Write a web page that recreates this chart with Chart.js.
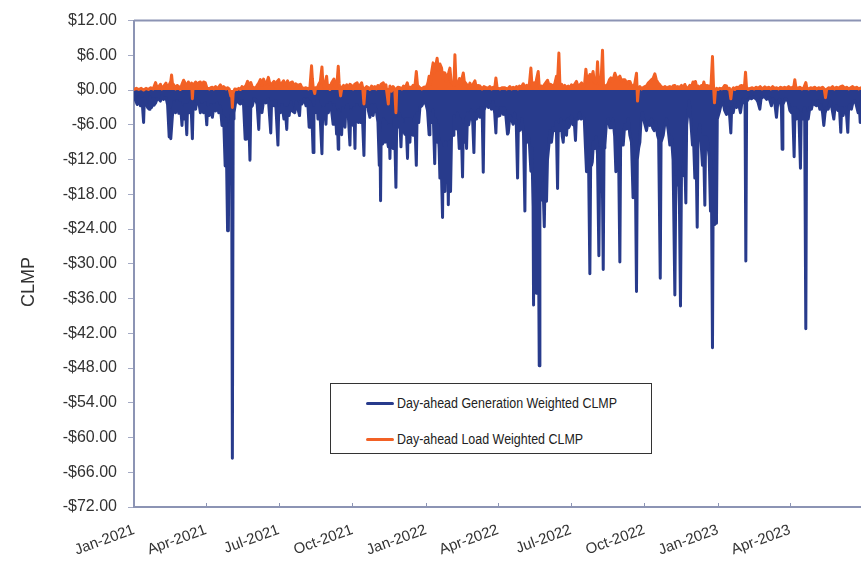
<!DOCTYPE html>
<html>
<head>
<meta charset="utf-8">
<script src="https://cdn.jsdelivr.net/npm/chart.js@4.4.1/dist/chart.umd.min.js"></script>
<style>
    html, body { margin: 0; padding: 0; background: #ffffff; }
    #wrap { position: relative; width: 861px; height: 566px; overflow: hidden; }
    #legendBox {
        position: absolute; left: 330px; top: 383px; width: 322px; height: 71px;
        border: 1px solid #333333; background: #ffffff; box-sizing: border-box;
        font-family: "Liberation Sans", Arial, sans-serif; font-size: 14px; color: #222222;
    }
    .item { position: absolute; left: 35px; height: 16px; line-height: 16px; white-space: nowrap; }
    .swatch { display: inline-block; width: 28px; height: 3px; vertical-align: middle; margin-right: 3px; border-radius: 2px; }
    .txt { display: inline-block; transform: scaleX(0.89); transform-origin: left center; vertical-align: middle; }
</style>
</head>
<body>
<div id="wrap">
    <canvas id="clmpChart" width="861" height="566"></canvas>
    <div id="legendBox">
        <div class="item" style="top: 10px;"><span class="swatch" style="background:#283b8c"></span><span class="txt">Day-ahead Generation Weighted CLMP</span></div>
        <div class="item" style="top: 46px;"><span class="swatch" style="background:#f26125"></span><span class="txt">Day-ahead Load Weighted CLMP</span></div>
    </div>
</div>
<script>
// days since 1 Jan 2021
const tickDays = [0, 90, 181, 273, 365, 455, 546, 638, 730, 820];
const tickLabels = ["Jan-2021", "Apr-2021", "Jul-2021", "Oct-2021", "Jan-2022",
                    "Apr-2022", "Jul-2022", "Oct-2022", "Jan-2023", "Apr-2023"];

const seriesNames = ["Day-ahead Generation Weighted CLMP", "Day-ahead Load Weighted CLMP"];

// [day, $] - generation weighted
const genPoints = [
    [0,-0.8],[2,-1.8],[4,-2.5],[6,-1.2],[8,-2.7],[10,-1.5],[12,-5.6],[13,-1.4],[15,-2.2],[17,-3.0],[19,-3.3],[20,-1.2],
    [22,-3.0],[24,-1.5],[25,-2.6],[27,-2.2],[29,-1.5],[31,-1.6],[33,-1.9],[35,-1.0],[37,-1.6],[40,-1.3],[42,-2.5],
    [44,-8.1],[45,-3.5],[46,-8.4],[48,-4.5],[50,-2.0],[52,-3.9],[54,-1.8],[56,-4.0],[58,-2.2],[60,-6.1],[61,-3.0],
    [62.5,-5.0],[64,-2.5],[66,-7.7],[67,-2.5],[69,-3.9],[71,-1.5],[73,-8.4],[74,-2.0],[77,-3.3],[79,-1.6],[81,-2.0],
    [83,-3.9],[85,-2.5],[87,-3.9],[89,-2.2],[91,-6.0],[92,-3.0],[94,-4.4],[96,-2.5],[98,-4.7],[100,-2.5],[102,-3.6],
    [104,-2.2],[106,-3.9],[108,-2.8],[110,-6.1],[112,-4.5],[114,-13.1],[115,-5.0],[117,-24.3],[118,-24.3],[119,-6.0],
    [121,-5.5],[122,-4.0],[123,-63.6],[124,-5.0],[125,-3.9],[127,-2.2],[129,-1.6],[131,-2.2],[133,-2.4],[135,-1.8],
    [137,-2.6],[139,-8.5],[140,-3.0],[142,-8.4],[143,-3.0],[145,-12.1],[146,-3.0],[148,-2.7],[150,-1.5],[152,-1.6],
    [154,-2.5],[156,-6.8],[157,-2.5],[160,-3.9],[162,-1.8],[165,-2.2],[168,-1.5],[171,-7.4],[172,-2.0],[175,-2.7],
    [177,-1.8],[180,-9.5],[181,-3.0],[183,-3.9],[185,-2.5],[187.5,-5.0],[189,-3.0],[191,-6.8],[192,-3.0],[194,-4.4],
    [196,-2.0],[198,-3.6],[201,-3.9],[203,-2.0],[204,-2.7],[207,-4.4],[208,-2.0],[210,-2.4],[213,-1.5],[215,-2.7],
    [217,-1.5],[219,-6.4],[220,-2.0],[222,-3.0],[224,-10.8],[225,-3.0],[227,-3.9],[229,-1.8],[230,-5.0],[232,-2.5],
    [235,-11.0],[236,-3.0],
    [238,-3.0],[240,-5.9],[241,-2.5],[243,-3.9],[245,-2.2],[247,-3.5],[249,-5.9],[250,-2.5],[252,-4.0],[253.3,-7.6],
    [254,-4.0],[255.4,-10.2],[256,-3.5],[258,-4.5],[259.6,-7.7],[261,-3.0],[263.8,-6.4],[265,-3.0],[267,-2.5],[268,-4.5],
    [270,-9.5],[271,-3.5],[273,-4.0],[274,-6.1],[275,-3.0],[276.3,-10.1],[277,-4.0],[279,-2.5],[280.4,-5.6],[282,-3.0],
    [283.3,-5.6],[285,-2.5],[287.5,-11.3],[288.5,-3.0],[290.8,-2.7],[292,-2.2],[293,-3.5],[295,-4.7],[297,-2.5],
    [299,-4.4],[301,-2.5],[303.3,-3.9],[305,-5.5],[306.7,-13.0],[307.5,-6.0],[308.3,-19.1],[309,-8.0],[310.8,-9.3],
    [312,-5.0],[313.8,-9.0],[315,-5.5],[316,-8.0],[318,-9.8],[319,-6.0],[320,-11.8],[321,-6.0],[322,-8.5],[324,-10.1],
    [325,-5.0],[326,-7.5],[327.5,-16.8],[328.5,-5.0],[330.4,-6.4],[332,-4.0],[333.8,-9.8],[335,-5.0],[337,-7.0],
    [338.75,-7.6],[340,-5.0],[342,-11.8],[343,-5.0],[345,-9.0],[346,-5.0],[347.5,-7.0],[349,-7.8],[351,-4.5],
    [353,-13.0],[354,-4.0],[356,-5.6],[357.5,-3.0],[360,-2.7],[362,-2.0],[365,-2.4],[367,-3.5],[369,-7.7],[370,-4.0],
    [372,-5.6],[374,-3.5],[376,-12.7],[377,-5.0],[379,-9.0],[380,-6.0],[381.5,-10.0],[382.5,-15.2],[383.5,-9.0],
    [385.8,-22.0],[386.5,-10.0],[388,-14.0],[388.75,-17.5],[389.5,-9.0],[390.8,-12.9],[392,-10.0],[393,-19.8],
    [394,-9.0],[395.8,-17.5],[397,-8.0],[399,-7.8],[400,-4.5],[401.5,-6.0],[403,-6.7],[404.5,-4.0],[406.7,-10.1],
    [408,-5.0],[409.5,-8.0],[410.8,-15.0],[411.8,-6.0],[413.75,-9.0],[415,-5.0],[415.8,-10.1],[417,-4.0],[418.5,-6.0],
    [420,-4.7],[422,-3.5],[423.5,-5.5],[425,-10.8],[426,-4.0],[428.3,-5.0],[430,-3.5],[432.5,-4.7],[434,-3.0],
    [435.5,-5.0],[436.7,-14.2],[437.7,-3.5],[439.6,-2.7],[441,-2.0],[443,-3.0],[445,-2.5],[447,-3.3],[449,-2.0],
    [451,-4.0],[452.5,-7.4],[453.5,-3.0],[455.5,-4.5],[457.5,-4.4],[459,-3.0],[461.7,-4.2],[463,-3.0],[465,-4.5],
    [467,-7.6],[468,-7.4],
    [470,-4.4],[472,-5.0],[474,-5.9],[476,-4.0],[478,-6.0],[479.6,-15.2],[480.5,-6.5],[482,-7.0],[483.75,-6.7],
    [485,-5.0],[487,-7.5],[488.75,-20.9],[489.5,-8.0],[491,-9.0],[493,-7.8],[494.5,-9.5],[496.25,-14.0],[497.5,-10.0],
    [499,-20.0],[499.6,-37.1],[500.5,-16.0],[502,-19.0],[503,-35.1],[504,-18.0],[505.5,-20.0],[506.7,-47.6],
    [507.5,-18.0],[509,-19.0],[509.6,-18.6],[511,-16.0],[512,-19.0],[513,-23.6],[514,-15.0],[515.8,-19.2],[517,-12.0],
    [518.75,-9.5],[520,-7.0],[522,-9.0],[524,-6.5],[526.25,-7.0],[528,-5.5],[529.6,-17.0],[530.5,-6.0],[532.5,-7.0],
    [534,-5.0],[535.5,-8.0],[536.7,-9.0],[538,-5.5],[540.8,-7.8],[542,-5.0],[543.5,-6.5],[545,-6.0],[547,-4.5],
    [549,-6.0],[550.5,-5.5],[552,-8.7],[553,-5.0],[555.4,-5.0],[557,-4.0],[559,-5.0],[561.7,-4.7],[563,-5.0],
    [564.5,-10.0],[565.8,-14.1],[567,-12.0],[568.5,-14.0],[570,-31.7],[571,-12.0],[572,-13.0],[573,-12.4],[574.5,-9.0],
    [576.25,-10.1],[578,-8.0],[579.5,-11.0],[581.25,-28.6],[582.5,-10.0],[584,-12.0],[585.5,-14.0],[586.7,-31.0],
    [587.7,-10.0],[588.75,-9.5],[590.5,-6.0],[593,-5.0],[595,-6.5],[597,-6.5],[599,-5.0],[601,-8.0],[602.5,-14.1],
    [604,-9.0],[606,-12.0],[607.5,-29.7],[608.5,-8.0],[610,-9.5],[611.7,-9.5],[613.5,-6.0],[615.8,-6.7],[618,-5.0],
    [620,-7.8],[622,-9.0],[624,-18.6],[625.5,-12.0],[627,-16.0],[628.3,-34.8],[629.3,-12.0],[631,-10.0],[632.5,-9.0],
    [634,-5.0],[635.8,-3.9],[638,-5.5],[640.8,-7.0],[642.5,-5.5],[645,-6.1],[647,-5.0],[648.5,-6.5],[650.4,-7.0],
    [652.5,-5.5],[654.6,-7.8],[656,-8.5],[658,-32.5],[659,-9.0],[661.7,-7.8],[663.5,-6.0],[665.8,-5.0],[668,-7.0],
    [670,-9.5],[672,-8.0],[674,-12.0],[676.25,-35.4],[677.5,-15.0],[679.6,-16.4],[681,-14.0],[682,-20.0],[683.3,-37.3],
    [684.5,-15.0],
    [686.7,-14.7],[688,-8.0],[690,-19.5],[691,-6.0],[692.5,-4.0],[694.2,-1.9],[696,-5.0],[698.3,-9.5],[699.5,-8.0],
    [701.25,-15.2],[702.5,-8.0],[704.2,-23.7],[705.2,-8.0],[707.5,-6.0],[709,-9.0],[710.8,-13.0],[712,-8.0],
    [713.75,-19.9],[714.7,-8.0],[716.7,-8.4],[718,-10.0],[719.2,-11.5],[720.8,-20.9],[721.8,-12.0],[723.3,-44.5],
    [724.3,-14.0],[726.25,-23.2],[727.3,-10.0],[728.3,-23.0],[729.3,-5.0],[731.7,-3.9],[734,-2.5],[736.7,-2.2],
    [738.5,-3.5],[740.8,-4.2],[742.5,-3.0],[744.5,-4.0],[746.25,-7.4],[747.3,-3.0],[749.2,-3.9],[751,-2.5],[753.3,-3.0],
    [755.5,-2.0],[758.3,-3.9],[760,-2.2],[761.7,-1.6],[764,-2.5],[765,-29.5],[766,-2.0],[768,-1.6],[770,-1.3],
    [772,-1.5],[775,-1.2],[778.3,-1.6],[780,-2.0],[782.5,-3.3],[784,-1.5],[786,-1.2],[788.75,-1.2],[791,-1.6],
    [794,-1.3],[797,-2.7],[798.5,-1.5],[801,-2.0],[803.3,-4.7],[805,-2.0],[807.5,-1.6],[809.5,-3.0],[810.4,-10.2],
    [811.3,-2.5],[814,-1.6],[815.8,-1.6],[818,-2.0],[820,-3.5],[822,-3.9],[823.5,-3.0],[825.4,-11.5],[826.5,-3.0],
    [828.3,-5.0],[830,-3.5],[831.5,-5.0],[833.3,-13.5],[834.3,-4.0],[836.7,-5.0],[838.5,-3.0],[840,-41.2],[841,-4.0],
    [843,-5.0],[845,-3.0],[847,-3.3],[849,-2.0],[851,-2.5],[853.3,-2.7],[855,-1.8],[857.5,-3.3],[859,-2.5],[861,-4.0],
    [862.5,-6.1],[864,-4.0],[866,-3.0],[868,-3.3],[870.8,-1.9],[872.5,-3.0],[875,-5.0],[876.5,-3.0],[878.3,-2.7],
    [880,-3.5],[882,-3.0],[883.75,-7.3],[884.7,-3.0],[886.7,-4.4],[888.5,-3.0],[890.5,-3.5],[892.5,-7.3],[893.5,-3.0],
    [895,-2.5],[897,-3.3],[899,-2.0],[901.25,-1.9],[903,-2.5],[905.4,-3.9],[907,-3.0],[908,-5.6],[909,-2.0]
];

// [day, $] - load weighted
const loadPoints = [
    [0,0.1],[3,0.3],[6,0.1],[9,0.3],[12,0.0],[15,0.3],[18,0.1],[21,0.4],[24,0.2],[27,1.3],[29,0.3],[31,0.6],[33,1.0],
    [35,0.2],[38,0.8],[40,1.2],[42,0.3],[44,0.9],[46,1.5],[47,2.6],[48,1.2],[50,0.8],[52,0.2],[54,0.8],[56,0.6],
    [58,0.1],[60,1.0],[62,1.7],[64,1.2],[66,0.5],[68,1.4],[70,0.6],[72,1.2],[73,-1.5],[74,0.8],[76,1.2],[77,1.4],
    [79,0.5],[81,1.3],[83,1.4],[85,0.6],[87,1.4],[89,1.3],[91,0.4],[94,0.2],[96,0.4],[98,0.5],[100,0.2],[102,0.6],
    [104,0.3],[106,0.5],[108,0.9],[110,0.3],[112,0.6],[115,0.2],[117,0.4],[119,0.2],[121,-1.0],[122,-0.5],[123,-3.0],
    [124,-0.5],[126,0.2],[129,0.1],[131,0.3],[133,0.1],[135,0.6],[137,0.3],[140,0.8],[142,1.5],[144,0.9],[146,1.3],
    [148,0.5],[150,0.4],[152,0.3],[154,0.8],[156,1.2],[158,1.8],[160,0.8],[162,1.9],[164,1.0],[166,1.3],[168,2.2],
    [170,1.0],[172,1.0],[175,1.5],[177,0.5],[179,1.5],[181,1.8],[183,0.6],[185,1.2],[187,1.6],[189,0.8],[192,1.6],
    [194,0.5],[196,1.3],[198,1.4],[200,0.6],[202,1.1],[205,0.8],[208,1.0],[210,0.4],[213,0.3],[215,0.4],[218,0.2],
    [220,0.5],[222,4.2],[223,2.0],[224,0.5],[226,-0.6],[227,0.4],[229,0.3],[231,1.0],[233,1.5],[235,4.0],[236,1.5],
    [238,0.5],[240.8,2.4],[242,0.6],[244,0.8],[245,0.1],[247,1.2],[250,1.9],[252,0.6],[254,1.5],[255.4,4.1],
    [256.5,1.2],[258.3,-1.0],[260,0.5],[262,0.8],[263.75,0.4],[266,0.9],[268,0.3],[270,1.0],[272,0.8],[274,0.2],
    [276,1.0],[279,1.25],[281,0.3],[283,0.9],[284.6,1.25],[286,0.4],[287.5,-2.4],[289,0.3],[291,0.6],[293,0.4],
    [295,0.1],[297,0.7],[299,0.4],[301,0.6],[303,0.2],[305,0.8],[307,0.5],[309,1.0],[311.7,1.25],[313,0.4],[315,0.9],
    [318,-2.4],[319,0.2],[320,0.7],[322,-0.2],[324,0.6],[326,0.2],[327.5,-3.9],[328.5,0.2],[330,0.5],[332.5,0.4],
    [335,0.2],[337,0.7],[339,0.3],[341.7,1.25],[343,0.4],[345,0.5],[347,0.4],[349,0.8],[351,0.3],[353,3.2],[354.5,0.8],
    [357.5,0.4],[360,0.2],[362.5,0.5],[365.8,0.6],[367.5,1.2],[369,2.4],[370.5,1.0],[372,3.0],[374,4.7],[375.5,3.0],
    [377,4.0],[379,5.5],[380.5,3.5],[382.5,4.5],[384.6,3.8],[386,2.0],[387.5,3.0],[388.75,2.95],[390.5,1.5],[392,2.5],
    [393.5,3.0],[395,3.8],[396.5,1.5],[398.3,1.25],[400,0.8],[401.25,6.1],[402.5,1.5],[404,1.0],[405.4,1.25],[407,2.0],
    [409,0.8],[410.5,2.2],[411.7,2.95],[413,1.5],[415.8,0.97],[418,0.4],[420,1.2],[422,0.5],[424,1.0],[426.25,1.6],
    [428,0.4],[430,0.8],[432.5,0.7],[435,0.2],[437.5,0.6],[440.8,0.4],[443,0.3],[445,0.6],[447,0.2],[449,0.5],
    [451,0.3],[452.5,2.1],[454,0.4],[457.5,0.2],[460,0.4],[463.75,0.4],[466,0.2],
    [468,0.3],[470,0.6],[472,0.2],[474,0.5],[476,0.3],[478.3,0.6],[480,0.2],[482,0.7],[484,0.4],[486.7,1.1],
    [488.5,0.4],[490.8,0.8],[492.5,0.3],[494.5,1.2],[496.25,3.8],[497.5,1.0],[499,0.4],[500.4,1.25],[502,0.8],
    [503.5,2.0],[505.4,3.2],[506.5,1.0],[508,0.3],[509.6,0.7],[511,0.4],[513,0.9],[515,1.3],[517,1.7],[519,0.8],
    [521,1.0],[523,0.5],[524,0.8],[526,1.0],[528.3,2.4],[529.5,1.2],[531.25,6.4],[532.5,1.0],[534.6,1.0],[536.5,0.5],
    [538.5,0.8],[541,0.4],[543,0.7],[545,0.3],[547,0.9],[549,0.5],[551,1.0],[553.3,1.5],[555,0.6],[557.5,0.9],
    [559.6,1.25],[561.5,0.4],[563.5,1.2],[565,3.6],[566.5,1.5],[568,2.0],[570,2.7],[571.5,1.5],[572.8,2.5],[574,3.2],
    [575.5,1.5],[577,1.2],[578.5,2.0],[579.6,4.9],[580.8,1.5],[582.5,1.0],[584,1.5],[585.8,6.9],[587,1.0],[588.75,0.4],
    [590.5,0.8],[592.5,1.0],[594.5,1.8],[596.25,2.1],[598,1.5],[599.5,2.0],[601.25,2.9],[603,2.2],[605,2.0],[607.5,2.4],
    [609.5,1.6],[611.5,1.8],[613.75,1.8],[616,1.2],[618,1.5],[620,1.5],[622,0.8],[624,0.7],[626,1.0],[628.3,2.9],
    [629.6,-1.9],[631,0.4],[632.5,0.6],[634.6,0.2],[636.5,0.4],[638.5,0.6],[640.8,0.7],[643,1.2],[645,1.5],[647,1.8],
    [649,2.0],[651.25,2.8],[653,1.8],[655.4,1.2],[657,1.0],[659,0.6],[661.7,0.4],[664,0.6],[666,0.3],[668,0.5],
    [670,0.6],[672,0.3],[674,0.7],[676.25,0.8],[678,0.3],[680,0.6],[682,0.4],
    [684.5,0.8],[686.5,0.3],[688.75,0.97],[690.5,0.4],[693,0.4],[695,0.8],[697,0.5],[699,1.4],[700.5,0.6],[702,1.5],
    [703.5,0.5],[705.4,0.7],[707.5,0.3],[709.5,0.8],[711,0.4],[712.5,1.4],[714,0.5],[716,0.8],[718,0.7],[720,0.4],
    [721.5,1.0],[723.3,5.8],[724.5,1.0],[725.8,-2.2],[727,0.0],[728.5,0.3],[730.4,0.1],[732.5,0.3],[735,0.2],
    [736.7,0.4],[738.5,0.8],[740.8,0.7],[742.5,0.2],[744.5,0.3],[746.25,-1.5],[747.5,0.0],[749.5,0.4],[751.25,0.1],
    [753.5,0.5],[756,0.4],[758,0.7],[760,0.8],[762,0.5],[763.5,1.0],[764.6,3.1],[765.8,0.5],[768,0.1],[770.5,0.3],
    [773,0.4],[775.5,0.2],[778,0.5],[780.5,0.3],[783,0.6],[785.5,0.2],[788.75,0.57],[791,0.3],[793.5,0.5],[796,0.2],
    [798.5,0.6],[801,0.3],[803.5,0.4],[806,0.2],[808.5,0.5],[811,0.3],[813.5,0.5],[816,0.3],[818.5,0.6],[821,0.3],
    [823.5,0.5],[825,0.6],[826.25,1.8],[827.5,0.5],[830,0.3],[832.5,0.5],[835,0.2],[837.5,0.4],[840,1.3],[841.2,0.4],
    [843.5,0.2],[846,0.4],[848.5,0.3],[851,0.5],[853.5,0.2],[856,0.4],[858.5,0.3],[861,0.5],[863,0.2],[864.6,-1.3],
    [866,0.1],[868.5,0.4],[871,0.3],[873.5,0.6],[876,0.2],[878.5,0.5],[881,0.3],[883.5,0.6],[886,0.7],[888.5,0.3],
    [891,0.5],[893.5,0.2],[896,0.4],[898.5,0.6],[901,0.3],[903.5,0.5],[906,0.2],[909,0.4]
];

const genColor = "#283b8c";
const loadColor = "#f26125";
const axisColor = "#8c94b4";
const textColor = "#333333";
const fontFamily = "'Liberation Sans', Arial, sans-serif";

// top border, inward x ticks and the rotated axis title
const framePlugin = {
    id: "frame",
    afterDraw(chart) {
        const ctx = chart.ctx;
        const area = chart.chartArea;
        const xScale = chart.scales.x;
        ctx.save();
        ctx.strokeStyle = axisColor;
        ctx.lineWidth = 2;
        ctx.beginPath();
        ctx.moveTo(area.left, area.top);
        ctx.lineTo(area.right, area.top);
        ctx.stroke();

        ctx.lineWidth = 1;
        ctx.beginPath();
        tickDays.forEach(d => {
            const px = Math.round(xScale.getPixelForValue(d)) + 0.5;
            ctx.moveTo(px, area.bottom);
            ctx.lineTo(px, area.bottom - 4);
        });
        ctx.stroke();

        ctx.fillStyle = textColor;
        ctx.font = "18px " + fontFamily;
        ctx.textAlign = "center";
        ctx.textBaseline = "middle";
        ctx.translate(29, 282);
        ctx.rotate(-Math.PI / 2);
        ctx.fillText("CLMP", 0, 0);
        ctx.restore();
    }
};

function createClmpChart() {
    const ctx = document.getElementById("clmpChart");

    new Chart(ctx, {
        type: "line",
        data: {
            datasets: [
                {
                    label: seriesNames[0],
                    data: genPoints.map(p => ({ x: p[0], y: p[1] })),
                    borderColor: genColor,
                    backgroundColor: genColor,
                    fill: "origin",
                    borderWidth: 3,
                    pointRadius: 0,
                    borderJoinStyle: "round",
                    borderCapStyle: "round",
                    tension: 0,
                    order: 1
                },
                {
                    label: seriesNames[1],
                    data: loadPoints.map(p => ({ x: p[0], y: p[1] })),
                    borderColor: loadColor,
                    backgroundColor: loadColor,
                    fill: "origin",
                    borderWidth: 3,
                    pointRadius: 0,
                    borderJoinStyle: "round",
                    borderCapStyle: "round",
                    tension: 0,
                    order: 0
                }
            ]
        },
        options: {
            responsive: false,
            animation: false,
            devicePixelRatio: 1,
            layout: { padding: { top: 14, right: 0, left: 0, bottom: 0 } },
            plugins: {
                legend: { display: false },
                tooltip: { enabled: false }
            },
            scales: {
                x: {
                    type: "linear",
                    min: 0,
                    max: 909,
                    afterBuildTicks: scale => {
                        scale.ticks = tickDays.map(d => ({ value: d }));
                    },
                    afterFit: scale => { scale.height = 59; },
                    grid: { drawOnChartArea: false, drawTicks: false },
                    border: { display: true, color: axisColor, width: 2 },
                    ticks: {
                        autoSkip: false,
                        minRotation: 20,
                        maxRotation: 20,
                        padding: 14,
                        color: textColor,
                        font: { family: fontFamily, size: 15 },
                        callback: (value, index) => tickLabels[index]
                    }
                },
                y: {
                    min: -72,
                    max: 12,
                    afterFit: scale => { scale.width = 134; },
                    grid: { drawOnChartArea: false, drawTicks: true, tickLength: 6, color: "#a4aac4" },
                    border: { display: true, color: axisColor, width: 2 },
                    ticks: {
                        stepSize: 6,
                        padding: 11,
                        color: textColor,
                        font: { family: fontFamily, size: 16 },
                        callback: value => (value < 0 ? "-$" : "$") + Math.abs(value).toFixed(2)
                    }
                }
            }
        },
        plugins: [framePlugin]
    });
}

document.addEventListener("DOMContentLoaded", createClmpChart);
</script>
</body>
</html>
